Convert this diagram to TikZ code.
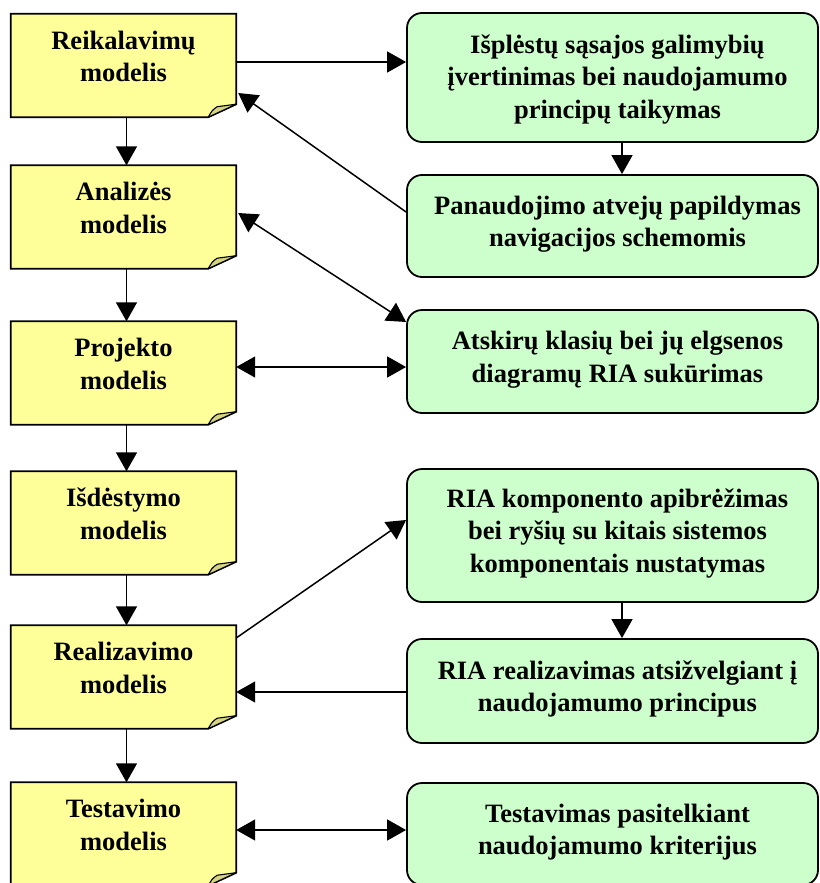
\documentclass[tikz,border=0pt]{standalone}
\usepackage{fontspec}
\setmainfont{Liberation Serif}
\usetikzlibrary{arrows.meta,backgrounds}

\definecolor{noteyellow}{RGB}{255,255,153}
\definecolor{notefold}{RGB}{214,212,128}
\definecolor{taskgreen}{RGB}{204,255,204}

\tikzset{
  txt/.style={font=\bfseries\fontsize{26.5}{32.5}\selectfont, align=center,
    inner sep=0pt, execute at begin node=\strut, execute at end node=\strut},
  note/.style={minimum width=225pt, minimum height=103pt, inner sep=0pt,
    label={[txt,yshift=4.5pt]center:#1}},
  task/.style 2 args={draw, line width=1.8pt, fill=taskgreen, rounded corners=15pt,
    minimum width=411pt, inner sep=0pt,
    label={[txt,xshift=5pt,yshift=#2]center:#1}},
  link/.style={line width=1.5pt, -{Triangle[length=19pt,width=21pt]}},
  dlink/.style={line width=1.5pt,
    {Triangle[length=19pt,width=21pt]}-{Triangle[length=19pt,width=21pt]}},
}

% sticky-note outline with a curled bottom-right corner, drawn behind its text
\newcommand\notepaper[1]{%
  \begin{scope}[on background layer]
    \filldraw[line width=1.8pt, fill=noteyellow, line join=miter]
      (#1.north west) -- (#1.north east) -- ([yshift=13pt]#1.south east)
      -- ([xshift=-28pt]#1.south east) -- (#1.south west) -- cycle;
    \filldraw[line width=1.1pt, fill=notefold, line join=round]
      ([xshift=-28pt]#1.south east)
      .. controls ([xshift=-24pt,yshift=7pt]#1.south east)
      .. ([xshift=-19pt,yshift=10.5pt]#1.south east)
      -- ([yshift=13pt]#1.south east) -- cycle;
  \end{scope}}

\begin{document}
\begin{tikzpicture}[x=1pt,y=-1pt]
  \useasboundingbox (0,0) rectangle (819,883);

  % model stages
  \node[note={Reikalavimų\\modelis}] (n1) at (123.5,65.5) {};
  \node[note={Analizės\\modelis}]    (n2) at (123.5,217) {};
  \node[note={Projekto\\modelis}]    (n3) at (123.5,373) {};
  \node[note={Išdėstymo\\modelis}]   (n4) at (123.5,523) {};
  \node[note={Realizavimo\\modelis}] (n5) at (123.5,677) {};
  \node[note={Testavimo\\modelis}]   (n6) at (123.5,834) {};
  \foreach \n in {n1,n2,n3,n4,n5,n6} {\notepaper{\n}}

  % activities
  \node[task={Išplėstų sąsajos galimybių\\įvertinimas bei naudojamumo\\principų taikymas}{-4pt},
        minimum height=129pt] (g1) at (612.5,77.5) {};
  \node[task={Panaudojimo atvejų papildymas\\navigacijos schemomis}{0pt},
        minimum height=102pt] (g2) at (612.5,226) {};
  \node[task={Atskirų klasių bei jų elgsenos\\diagramų RIA sukūrimas}{0pt},
        minimum height=103pt] (g3) at (612.5,361.5) {};
  \node[task={RIA komponento apibrėžimas\\bei ryšių su kitais sistemos\\komponentais nustatymas}{0pt},
        minimum height=133pt] (g4) at (612.5,535.5) {};
  \node[task={RIA realizavimas atsižvelgiant į\\naudojamumo principus}{0pt},
        minimum height=104pt] (g5) at (612.5,691) {};
  \node[task={Testavimas pasitelkiant\\naudojamumo kriterijus}{0pt},
        minimum height=102pt] (g6) at (612.5,834) {};

  % stage sequence
  \draw[link] ([xshift=3pt]n1.south) -- ([xshift=3pt]n2.north);
  \draw[link] ([xshift=3pt]n2.south) -- ([xshift=3pt]n3.north);
  \draw[link] ([xshift=3pt]n3.south) -- ([xshift=3pt]n4.north);
  \draw[link] ([xshift=3pt]n4.south) -- ([xshift=3pt]n5.north);
  \draw[link] ([xshift=3pt]n5.south) -- ([xshift=3pt]n6.north);

  % activity sequence
  \draw[link] ([xshift=9.5pt]g1.south) -- ([xshift=9.5pt]g2.north);
  \draw[link] ([xshift=9.5pt]g4.south) -- ([xshift=9.5pt]g5.north);

  % links between stages and activities
  \draw[link]  ([yshift=3.5pt]n1.east) -- ([yshift=3.5pt]n1.east -| g1.west);
  \draw[link]  ([yshift=14pt]g2.west) -- ([xshift=2pt,yshift=-27.5pt]n1.east);
  \draw[dlink] ([xshift=2pt,yshift=4pt]n2.east) -- ([yshift=39.5pt]g3.west);
  \draw[dlink] ([yshift=6pt]n3.east) -- ([yshift=6pt]n3.east -| g3.west);
  \draw[link]  ([yshift=39pt]n5.east) -- ([yshift=15.5pt]g4.west);
  \draw[link]  ([yshift=-1pt]g5.west) -- ([yshift=-1pt]g5.west -| n5.east);
  \draw[dlink] ([yshift=4pt]n6.east) -- ([yshift=4pt]n6.east -| g6.west);
\end{tikzpicture}
\end{document}
